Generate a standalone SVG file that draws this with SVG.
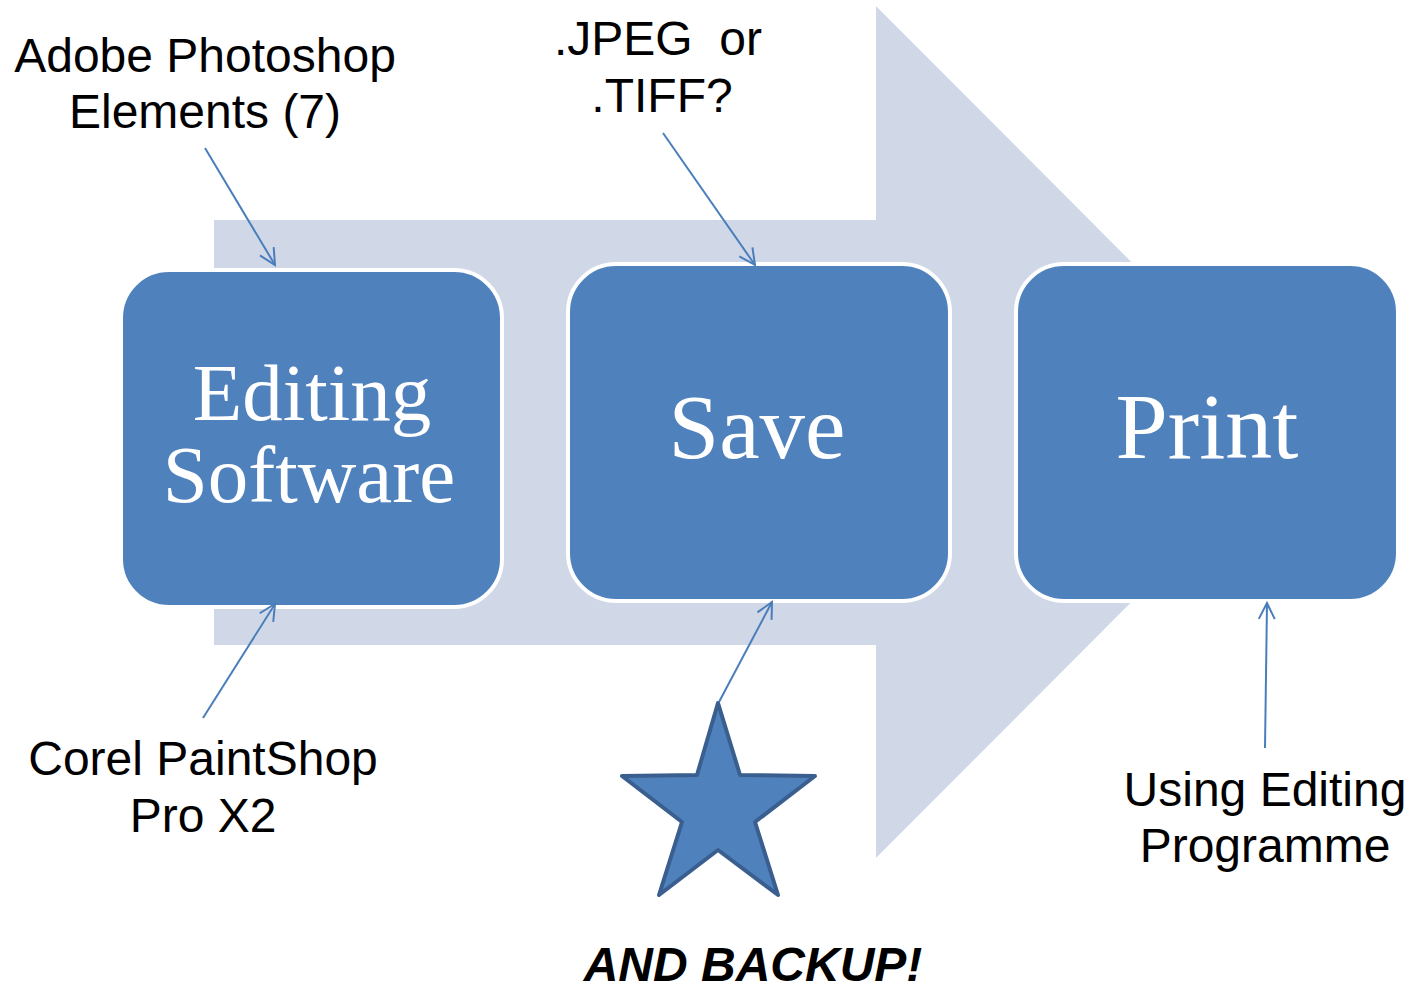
<svg xmlns="http://www.w3.org/2000/svg" width="1411" height="989" viewBox="0 0 1411 989">
<defs>
<style>
.box{fill:#4F81BD;stroke:#FFFFFF;stroke-width:4}
.boxtxt{font-family:"Liberation Serif","Times New Roman",serif;fill:#FFFFFF;text-anchor:middle}
.lbl{font-family:"Liberation Sans",Arial,sans-serif;font-size:48px;fill:#000000;text-anchor:middle}
.con{stroke:#4A7EBB;stroke-width:2;fill:none;marker-end:url(#open)}
</style>
<marker id="open" viewBox="0 0 20 20" refX="18" refY="10" markerWidth="20" markerHeight="20" markerUnits="userSpaceOnUse" orient="auto">
<polyline points="2,2 18,10 2,18" fill="none" stroke="#4A7EBB" stroke-width="2"/>
</marker>
</defs>
<rect width="1411" height="989" fill="#FFFFFF"/>
<g id="bigarrow">
<polygon points="214,220 876,220 876,6 1301,432 876,858 876,645 214,645" fill="#D0D8E8"/>
</g>
<g id="node-editing">
<rect class="box" x="121" y="270" width="381" height="337" rx="48"/>
<text class="boxtxt" x="312" y="420" font-size="81">Editing</text>
<text class="boxtxt" x="309" y="502" font-size="81">Software</text>
</g>
<g id="node-save">
<rect class="box" x="568" y="264" width="382" height="337" rx="48"/>
<text class="boxtxt" x="757" y="458" font-size="91">Save</text>
</g>
<g id="node-print">
<rect class="box" x="1016" y="264" width="382" height="337" rx="48"/>
<text class="boxtxt" x="1207" y="458" font-size="94">Print</text>
</g>
<g id="node-star">
<polygon points="718,703 740,775 815,776 755,822 778,895 718,850 659,895 682,822 622,776 697,775" fill="#4F81BD" stroke="#3A5F8F" stroke-width="4" stroke-linejoin="round"/>
</g>
<g id="connectors">
<line class="con" x1="205" y1="148" x2="275" y2="265"/>
<line class="con" x1="663" y1="133" x2="755" y2="265"/>
<line class="con" x1="203" y1="718" x2="275" y2="604"/>
<line class="con" x1="719" y1="702" x2="772" y2="602"/>
<line class="con" x1="1265" y1="748" x2="1267" y2="603"/>
</g>
<g id="labels">
<text class="lbl" x="205" y="72">Adobe Photoshop</text>
<text class="lbl" x="205" y="128">Elements (7)</text>
<text class="lbl" x="658" y="55" xml:space="preserve">.JPEG  or</text>
<text class="lbl" x="662" y="112">.TIFF?</text>
<text class="lbl" x="203" y="775">Corel PaintShop</text>
<text class="lbl" x="203" y="832">Pro X2</text>
<text class="lbl" x="1265" y="806">Using Editing</text>
<text class="lbl" x="1265" y="862">Programme</text>
<text class="lbl" x="753" y="981" font-weight="bold" font-style="italic">AND BACKUP!</text>
</g>
</svg>
